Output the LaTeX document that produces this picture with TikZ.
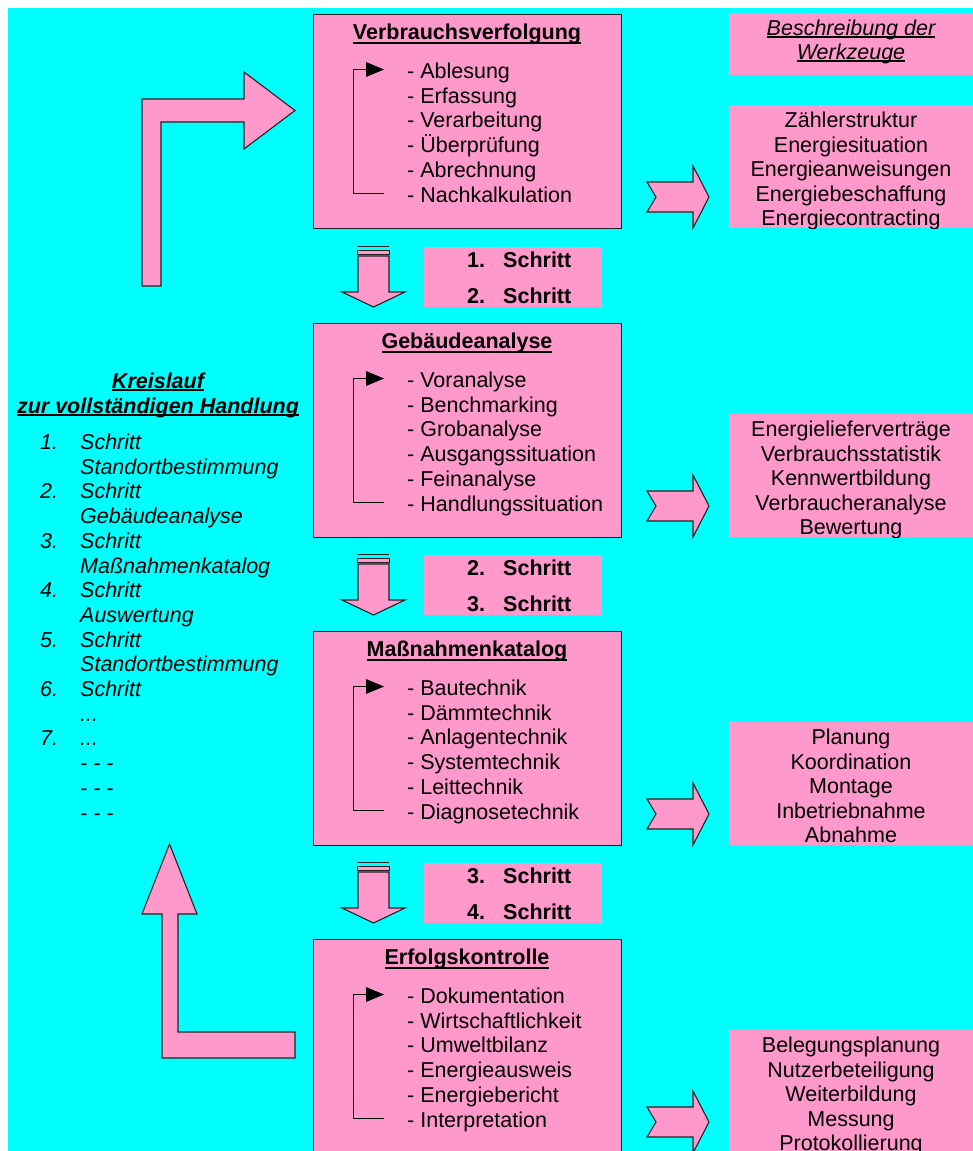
\documentclass[tikz,border=0pt]{standalone}
\usepackage{fontspec}
\setmainfont{Liberation Sans}
\definecolor{bg}{HTML}{00FFFF}
\definecolor{pk}{HTML}{FF99CC}
\definecolor{ln}{HTML}{222222}
\newcommand\ulx[3]{\leavevmode\setbox0=\hbox{#3}\rlap{\rule[-#1]{\wd0}{#2}}\box0}
\newcommand\threedots{...}
\tikzset{
  mainbox/.style={draw=ln, line width=1.3pt, fill=pk, anchor=north west, inner sep=0pt, minimum width=308pt, minimum height=214pt},
  sidebox/.style={fill=pk, anchor=north west, inner sep=0pt, minimum width=250pt, minimum height=123pt},
  stepbox/.style={fill=pk, anchor=north west, inner sep=0pt, minimum width=178pt, minimum height=60pt},
  txt/.style={font=\fontsize{21.5}{24.7}\selectfont, inner sep=0pt, anchor=base west},
  ctxt/.style={font=\fontsize{21.5}{24.7}\selectfont, inner sep=0pt, anchor=base},
  blockarrow/.style={fill=pk, draw=ln, line width=1.1pt, line join=miter},
}
\newcommand\panel[4]{%
  \node[mainbox] (#1) at (313,#2) {};
  \node[ctxt, font=\fontsize{21.5}{24.7}\selectfont\bfseries] (#1t) at (467,#2+25.5) {\ulx{4.8pt}{1.9pt}{#3}};
  \foreach \it [count=\k from 0] in {#4} {
    \node[txt] (#1i\k) at (407,{#2+64.5+24.7*\k}) {- \it};
  }
  \draw[line width=1pt] (384,#2+179.5) -| (353,#2+55.5) -- (368,#2+55.5);
  \fill (366,#2+48) -- (384,#2+55.5) -- (366,#2+63) -- cycle;
  \path[blockarrow] (647,#2+168) -- (693,#2+168) -- (693,#2+152) -- (709,#2+183) -- (693,#2+214) -- (693,#2+198) -- (647,#2+198) -- (656,#2+183) -- cycle;
}
\newcommand\sidepanel[3]{%
  \node[sidebox] (#1) at (729,#2) {};
  \begin{scope}
    \clip (#1.south west) rectangle (#1.north east);
    \foreach \it [count=\k from 0] in {#3} {
      \node[ctxt] (#1l\k) at (851,{#2+22.5+24.5*\k}) {\it};
    }
  \end{scope}
}
\newcommand\steppanel[4]{%
  \node[stepbox] (#1) at (424,#2) {};
  \node[txt, font=\fontsize{21.5}{24.7}\selectfont\bfseries] (#1a) at (467,#2+20.5) {#3.};
  \node[txt, font=\fontsize{21.5}{24.7}\selectfont\bfseries] (#1b) at (503,#2+20.5) {Schritt};
  \node[txt, font=\fontsize{21.5}{24.7}\selectfont\bfseries] (#1c) at (467,#2+56.5) {#4.};
  \node[txt, font=\fontsize{21.5}{24.7}\selectfont\bfseries] (#1d) at (503,#2+56.5) {Schritt};
  \draw[ln, line width=1.6pt] (357,#2-0.5) -- (389,#2-0.5);
  \filldraw[fill=pk, draw=ln, line width=1pt] (357,#2+3) rectangle (389,#2+7);
  \path[blockarrow] (358,#2+9) -- (358,#2+45) -- (342,#2+45) -- (373.5,#2+60) -- (405,#2+45) -- (389,#2+45) -- (389,#2+9) -- cycle;
}
\begin{document}
\begin{tikzpicture}[x=1pt,y=-1pt]
\useasboundingbox (0,0) rectangle (973,1151);
\fill[white] (0,0) rectangle (973,1151);
\fill[bg] (8,8) rectangle (973,1151);

% main panels
\panel{p1}{14}{Verbrauchsverfolgung}{Ablesung,Erfassung,Verarbeitung,Überprüfung,Abrechnung,Nachkalkulation}
\panel{p2}{323}{Gebäudeanalyse}{Voranalyse,Benchmarking,Grobanalyse,Ausgangssituation,Feinanalyse,Handlungssituation}
\panel{p3}{631}{Maßnahmenkatalog}{Bautechnik,Dämmtechnik,Anlagentechnik,Systemtechnik,Leittechnik,Diagnosetechnik}
\panel{p4}{939}{Erfolgskontrolle}{Dokumentation,Wirtschaftlichkeit,Umweltbilanz,Energieausweis,Energiebericht,Interpretation}

% step boxes and down arrows
\steppanel{s1}{247}{1}{2}
\steppanel{s2}{555}{2}{3}
\steppanel{s3}{863}{3}{4}

% right side boxes
\node[fill=pk, anchor=north west, inner sep=0pt, minimum width=250pt, minimum height=62pt] (rh) at (729,13) {};
\node[ctxt, font=\fontsize{21.5}{24.7}\selectfont\itshape] (rh1) at (851,35) {\ulx{2.5pt}{1.1pt}{Beschreibung der}};
\node[ctxt, font=\fontsize{21.5}{24.7}\selectfont\itshape] (rh2) at (851,59) {\ulx{2.5pt}{1.1pt}{Werkzeuge}};
\sidepanel{r1}{105}{Zählerstruktur,Energiesituation,Energieanweisungen,Energiebeschaffung,Energiecontracting}
\sidepanel{r2}{414}{Energielieferverträge,Verbrauchsstatistik,Kennwertbildung,Verbraucheranalyse,Bewertung}
\sidepanel{r3}{722}{Planung,Koordination,Montage,Inbetriebnahme,Abnahme}
\sidepanel{r4}{1030}{Belegungsplanung,Nutzerbeteiligung,Weiterbildung,Messung,Protokollierung}

% big L arrows
\path[blockarrow] (142,286) -- (142,99) -- (244,99) -- (244,72) -- (295,110.5) -- (244,149) -- (244,122) -- (161,122) -- (161,286) -- cycle;
\path[blockarrow] (295,1032) -- (178,1032) -- (178,914) -- (197,914) -- (169.5,844) -- (142,914) -- (162,914) -- (162,1058) -- (295,1058) -- cycle;

% left legend
\node[ctxt, font=\fontsize{21.5}{24.7}\selectfont\bfseries\itshape] (lt1) at (158,388) {\ulx{2.5pt}{1.9pt}{Kreislauf}};
\node[ctxt, font=\fontsize{21.5}{24.7}\selectfont\bfseries\itshape] (lt2) at (158,413) {\ulx{2.5pt}{1.9pt}{zur vollständigen Handlung}};
\foreach \n/\t [count=\k from 0] in {1./Schritt, /Standortbestimmung, 2./Schritt, /Gebäudeanalyse, 3./Schritt, /Maßnahmenkatalog, 4./Schritt, /Auswertung, 5./Schritt, /Standortbestimmung, 6./Schritt, /\threedots, 7./\threedots, /- - -, /- - -, /- - -} {
  \node[txt, font=\fontsize{21.5}{24.7}\selectfont\itshape] (ln\k) at (40,{449.5+24.7*\k}) {\n};
  \node[txt, font=\fontsize{21.5}{24.7}\selectfont\itshape] (lx\k) at (80,{449.5+24.7*\k}) {\t};
}
\end{tikzpicture}
\end{document}
